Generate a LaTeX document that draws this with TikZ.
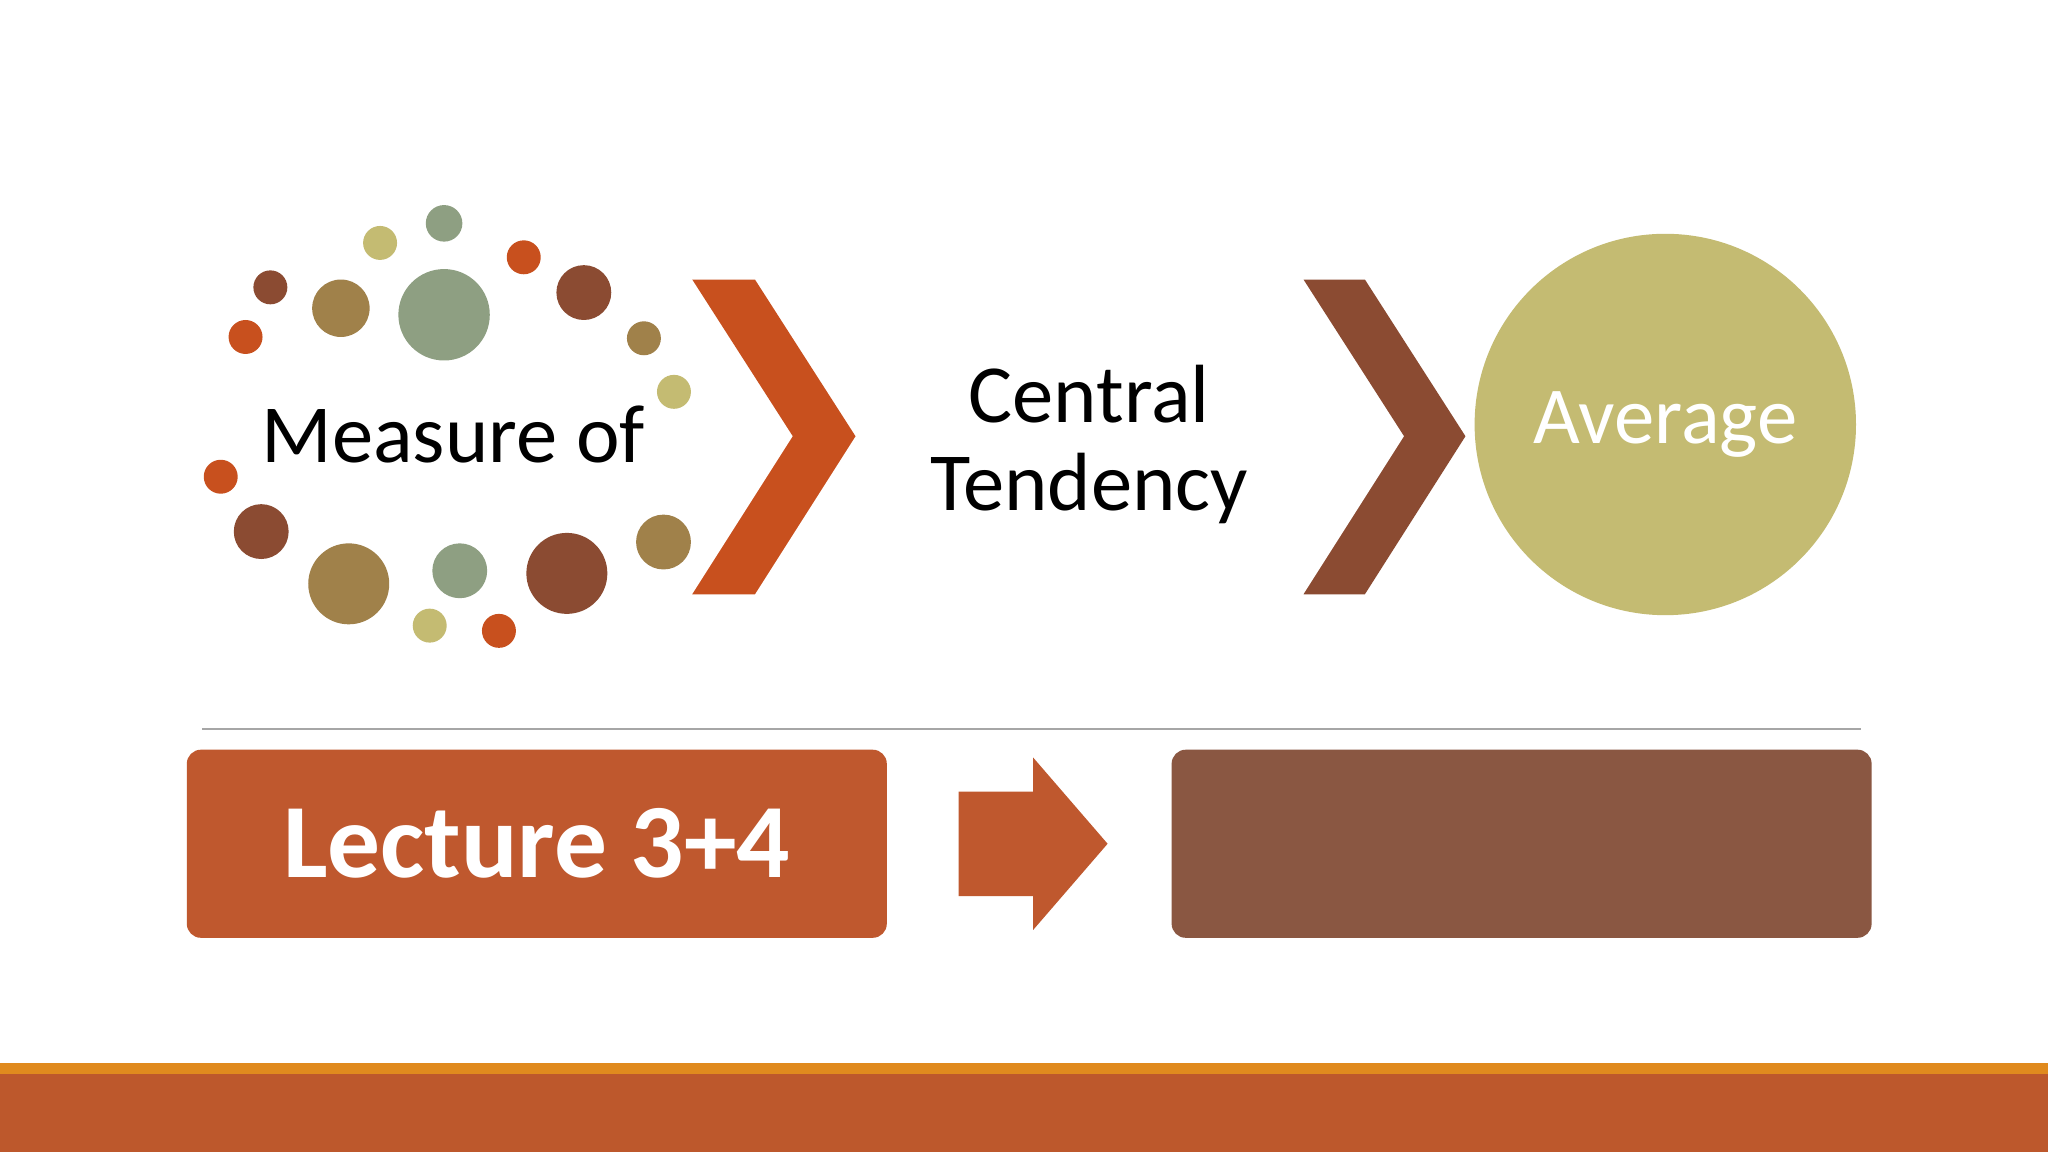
\documentclass[tikz,border=0pt]{standalone}
\usepackage{fontspec}
\setmainfont{Carlito}
\definecolor{gg}{HTML}{8E9F82}
\definecolor{kh}{HTML}{C4BB72}
\definecolor{br}{HTML}{8B4B32}
\definecolor{ol}{HTML}{A0814A}
\definecolor{orr}{HTML}{C8501E}
\definecolor{rect1}{HTML}{BF582E}
\definecolor{rect2}{HTML}{8A5742}
\definecolor{barO}{HTML}{E08A1E}
\definecolor{barR}{HTML}{BD582C}
\begin{document}
\begin{tikzpicture}[x=0.013061cm,y=-0.013061cm]
\useasboundingbox (0,0) rectangle (1568,882);
\fill[white] (0,0) rectangle (1568,882);
\foreach \x/\y/\r/\c in {340/171/14/gg,291/186/13/kh,207/220/13/br,261/236/22/ol,340/241/35/gg,401/197/13/orr,447/224/21/br,493/259/13/ol,188/258/13/orr,516/300/13/kh,169/365/13/orr,200/407/21/br,508/415/21/ol,267/447/31/ol,352/437/21/gg,434/439/31/br,329/479/13/kh,382/483/13/orr}
  {\fill[\c] (\x,\y) circle[radius=\r];}
\node[font=\fontsize{23.5}{26}\selectfont] (m) at (347,333) {Measure of};
\fill[orr] (530,214) -- (578,214) -- (655,334) -- (578,455) -- (530,455) -- (607,334) -- cycle;
\fill[br] (998,214) -- (1045,214) -- (1122,334) -- (1045,455) -- (998,455) -- (1075,334) -- cycle;
\node[font=\fontsize{23.5}{25}\selectfont,align=center] (c) at (834,340) {Central\\Tendency};
\node[circle,fill=kh,minimum size=3.814cm,inner sep=0,text=white,font=\fontsize{23}{26}\selectfont] (a) at (1275,325) {Average};
\draw[gray!70,line width=0.6pt] (155,558) -- (1425,558);
\node[fill=rect1,rounded corners=4pt,minimum width=7.0cm,minimum height=1.881cm,inner sep=0,text=white,font=\bfseries\fontsize{30}{32}\selectfont] (l) at (411,646) {Lecture 3+4};
\fill[rect1] (734,606) -- (791,606) -- (791,580) -- (848,646) -- (791,712) -- (791,686) -- (734,686) -- cycle;
\node[fill=rect2,rounded corners=4pt,minimum width=7.0cm,minimum height=1.881cm,inner sep=0] (r) at (1165,646) {};
\fill[barO] (0,814) rectangle (1568,822);
\fill[barR] (0,822) rectangle (1568,882);
\end{tikzpicture}
\end{document}
